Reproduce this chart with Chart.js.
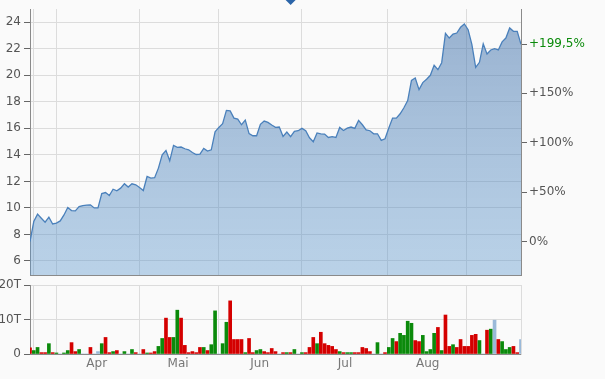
<!DOCTYPE html>
<html>
<head>
<meta charset="utf-8">
<script src="https://cdn.jsdelivr.net/npm/chart.js@4"></script>
<style>
  html, body { margin: 0; padding: 0; background: #fafafa; }
  #wrap { position: relative; width: 605px; height: 379px; overflow: hidden; }
  canvas { position: absolute; left: 0; }
</style>
</head>
<body>
<div id="wrap">
  <canvas id="priceChart" width="605" height="282" style="top:0"></canvas>
  <canvas id="volChart" width="605" height="101" style="top:278px"></canvas>
</div>
<script>
// daily closes (EUR), one per trading day
const prices = [
  7.46, 8.97, 9.53, 9.22, 8.92, 9.30, 8.79, 8.85, 9.02, 9.47,
  10.03, 9.80, 9.78, 10.10, 10.18, 10.21, 10.23, 10.00, 10.00, 11.08,
  11.16, 10.93, 11.41, 11.29, 11.49, 11.82, 11.57, 11.82, 11.74, 11.54,
  11.31, 12.37, 12.24, 12.28, 13.00, 14.01, 14.33, 13.55, 14.71, 14.56,
  14.59, 14.46, 14.38, 14.18, 14.03, 14.06, 14.48, 14.29, 14.38, 15.74,
  16.07, 16.35, 17.35, 17.31, 16.77, 16.70, 16.27, 16.62, 15.60, 15.44,
  15.44, 16.30, 16.55, 16.45, 16.25, 16.07, 16.10, 15.39, 15.72, 15.37,
  15.77, 15.82, 16.00, 15.82, 15.29, 14.99, 15.65, 15.59, 15.57, 15.31,
  15.37, 15.31, 16.07, 15.84, 16.02, 16.10, 16.00, 16.60, 16.27, 15.89,
  15.82, 15.59, 15.59, 15.09, 15.21, 16.02, 16.77, 16.77, 17.10, 17.55,
  18.10, 19.62, 19.80, 18.92, 19.45, 19.70, 20.00, 20.75, 20.42, 20.95,
  23.16, 22.81, 23.11, 23.19, 23.62, 23.87, 23.44, 22.31, 20.60, 20.98,
  22.37, 21.61, 21.91, 22.01, 21.91, 22.52, 22.81, 23.57, 23.32, 23.32,
  22.34,
]

// volume in thousands of shares (T)
const volumes = [
  1.8, 1.0, 1.9, 0.4, 0.4, 3.0, 0.4, 0.3, 0, 0.3,
  1.0, 3.3, 0.7, 1.3, 0, 0, 1.9, 0, 0.7, 3.0,
  4.8, 0.4, 0.7, 1.0, 0, 0.7, 0, 1.3, 0.4, 0,
  1.3, 0.3, 0.3, 0.7, 2.2, 4.5, 10.4, 4.8, 4.8, 12.7,
  10.4, 2.5, 0.4, 0.7, 0.4, 1.9, 1.9, 1.0, 2.7, 12.5,
  0, 3.0, 9.2, 15.4, 4.2, 4.2, 4.2, 0.4, 4.5, 0.4,
  1.0, 1.3, 0.7, 0.4, 1.6, 0.7, 0, 0.4, 0.4, 0.4,
  1.3, 0, 0.4, 0.4, 1.9, 4.8, 3.0, 6.3, 3.0, 2.5,
  2.2, 1.3, 0.7, 0.4, 0.4, 0.4, 0.4, 0.4, 1.9, 1.6,
  0.7, 0, 3.3, 0, 0.4, 1.9, 4.5, 3.6, 6.0, 5.4,
  9.5, 8.9, 3.9, 3.6, 5.4, 0.7, 1.3, 6.0, 7.7, 1.0,
  11.3, 2.2, 2.7, 1.9, 4.2, 2.2, 2.2, 5.4, 5.7, 3.9,
  0, 6.9, 7.2, 9.8, 4.2, 3.6, 1.3, 1.9, 2.2, 0.4,
  4.2,
]

// u = up day, d = down day, n = unchanged
const volumeDir = (
  "duuddudunu" + "uddunndnnu" + "ddudnunudn" + "dudduudduu" +
  "dddddduduu" + "nuuddddudd" + "uuddddndud" + "unuddduddd" +
  "dduduudddd" + "dnunduuduu" + "uudduuuudu" + "dduddddddu" +
  "ndunduuudd" + "n"
).split("")

// x positions (in trading-day index) of month starts and month label centres
const monthStarts = [0.87, 6.9, 28.9, 49.8, 72.0, 94.6, 115.7]
const monthMids = [17.66, 39.2, 60.8, 83.4, 105.3]
const monthLabels = ["Apr", "Mai", "Jun", "Jul", "Aug"]

const priceTicks = [6, 8, 10, 12, 14, 16, 18, 20, 22, 24]
const pctTicks = [0, 50, 100, 150]
const volTicks = [0, 10, 20]

const markerIndex = 69

Chart.defaults.font.family = "'DejaVu Sans', Verdana, sans-serif"
Chart.defaults.font.size = 12
Chart.defaults.color = "#555"

const base = prices[0]
const last = prices[prices.length - 1]
const lastPct = Math.round((last / base - 1) * 1000) / 10
const yMin = 4.94
const yMax = 25
const toPct = (v) => (v / base - 1) * 100

const gridColor = "#dcdcdc"
const axisColor = "#8a8a8a"
const xMax = prices.length - 1
const volXTicks = monthStarts.concat(monthMids).sort((a, b) => a - b)

// fixed axis sizes, no extra label padding
const fitY = (w) => (s) => {
  s.width = w
  s.paddingTop = 0
  s.paddingBottom = 0
}

const markerPlugin = {
  id: "marker",
  afterDraw(chart) {
    const x = chart.scales.x.getPixelForValue(markerIndex)
    const ctx = chart.ctx
    ctx.save()
    ctx.fillStyle = "#2b65a9"
    ctx.beginPath()
    ctx.moveTo(x - 5, 0)
    ctx.lineTo(x + 5, 0)
    ctx.lineTo(x, 5)
    ctx.closePath()
    ctx.fill()
    ctx.restore()
  },
}

new Chart(document.getElementById("priceChart"), {
  type: "line",
  data: {
    datasets: [
      {
        data: prices.map((v, i) => ({ x: i, y: v })),
        borderColor: "#4a80bb",
        borderWidth: 1.3,
        pointRadius: 0,
        tension: 0,
        fill: "start",
        backgroundColor: (c) => {
          const area = c.chart.chartArea
          if (!area) return "rgba(70,130,190,0.45)"
          const g = c.chart.ctx.createLinearGradient(0, area.top, 0, area.bottom)
          g.addColorStop(0, "rgba(55,105,165,0.5)")
          g.addColorStop(1, "rgba(90,150,205,0.4)")
          return g
        },
      },
    ],
  },
  options: {
    responsive: false,
    animation: false,
    devicePixelRatio: 1,
    layout: { padding: { top: 9, bottom: 7, left: 0, right: 0 } },
    plugins: { legend: { display: false }, tooltip: { enabled: false } },
    scales: {
      x: {
        type: "linear",
        min: 0,
        max: xMax,
        afterBuildTicks: (s) => { s.ticks = monthStarts.map((v) => ({ value: v })) },
        afterFit: (s) => { s.height = 0 },
        ticks: { display: false },
        grid: { color: gridColor, drawTicks: false, offset: false },
        border: { color: axisColor, width: 1 },
      },
      y: {
        position: "left",
        min: yMin,
        max: yMax,
        afterBuildTicks: (s) => { s.ticks = priceTicks.map((v) => ({ value: v })) },
        afterFit: fitY(30),
        ticks: { padding: 3, color: "#555" },
        grid: { color: gridColor, tickColor: "#666", tickLength: 6 },
        border: { color: axisColor, width: 1 },
      },
      y2: {
        position: "right",
        min: toPct(yMin),
        max: toPct(yMax),
        afterBuildTicks: (s) => { s.ticks = pctTicks.concat([lastPct]).map((v) => ({ value: v })) },
        afterFit: fitY(84),
        ticks: {
          padding: 2,
          color: (c) => (c.index === pctTicks.length ? "#0a8a0a" : "#555"),
          callback: (v) =>
            v === 0 ? "0%" : "+" + v.toLocaleString("de-DE", { maximumFractionDigits: 1 }) + "%",
        },
        grid: { drawOnChartArea: false, tickColor: "#666", tickLength: 6 },
        border: { color: axisColor, width: 1 },
      },
    },
  },
  plugins: [markerPlugin],
})

const dirColor = { u: "#0b8a0b", d: "#d40000", n: "#9ab9d9" }

new Chart(document.getElementById("volChart"), {
  type: "bar",
  data: {
    datasets: [
      {
        data: volumes.map((v, i) => ({ x: i, y: v })),
        backgroundColor: volumeDir.map((d) => dirColor[d]),
        barThickness: 3,
        borderWidth: 0,
      },
    ],
  },
  options: {
    responsive: false,
    animation: false,
    devicePixelRatio: 1,
    layout: { padding: { top: 7, bottom: 0, left: 0, right: 0 } },
    plugins: { legend: { display: false }, tooltip: { enabled: false } },
    scales: {
      x: {
        type: "linear",
        min: 0,
        max: xMax,
        offset: false,
        afterBuildTicks: (s) => { s.ticks = volXTicks.map((v) => ({ value: v })) },
        afterFit: (s) => { s.height = 25 },
        ticks: {
          padding: 3,
          color: "#777",
          autoSkip: false,
          maxRotation: 0,
          callback: (v) => {
            const k = monthMids.indexOf(v)
            return k < 0 ? "" : monthLabels[k]
          },
        },
        grid: {
          offset: false,
          drawTicks: false,
          color: (c) => (c.tick && monthStarts.includes(c.tick.value) ? gridColor : "rgba(0,0,0,0)"),
        },
        border: { color: axisColor, width: 1 },
      },
      y: {
        position: "left",
        min: 0,
        max: 20,
        afterBuildTicks: (s) => { s.ticks = volTicks.map((v) => ({ value: v })) },
        afterFit: fitY(30),
        ticks: { padding: 3, color: "#555", callback: (v) => (v === 0 ? "0" : v + "T") },
        grid: { color: gridColor, tickColor: "#666", tickLength: 6 },
        border: { color: axisColor, width: 1 },
      },
      y2: {
        position: "right",
        min: 0,
        max: 20,
        afterFit: fitY(84),
        ticks: { display: false },
        grid: { drawOnChartArea: false, drawTicks: false },
        border: { color: gridColor, width: 1 },
      },
    },
  },
})
</script>
</body>
</html>
